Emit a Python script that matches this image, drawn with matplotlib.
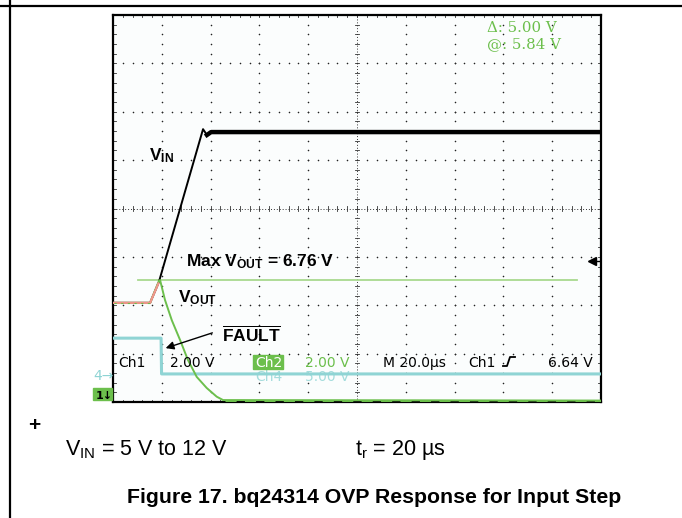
import matplotlib
matplotlib.use("Agg")
import matplotlib.pyplot as plt
import numpy as np
from matplotlib.patches import Rectangle

plt.rcParams['font.family'] = ['Liberation Sans', 'DejaVu Sans']
plt.rcParams['mathtext.fontset'] = 'custom'
plt.rcParams['mathtext.rm'] = 'Liberation Sans'
plt.rcParams['mathtext.it'] = 'Liberation Sans:italic'
plt.rcParams['mathtext.bf'] = 'Liberation Sans:bold'

# scope traces: time in us (20 us/div), level in screen divisions (8 div tall)
vin_t = [0, 15.2, 18.8, 36.9, 38.5, 40.2, 200]
vin_v = [2.05, 2.05, 2.48, 5.64, 5.52, 5.58, 5.58]

pre_t = [0.4, 15.2, 18.6]
pre_v = [2.05, 2.05, 2.45]

vout_t = [0, 15.2, 18.8, 19.3, 21.3, 24.1, 27.5, 30.7, 34.3, 38.4, 42.5, 45.1, 200]
vout_v = [2.05, 2.05, 2.50, 2.52, 2.11, 1.69, 1.28, 0.87, 0.52, 0.29, 0.11, 0.04, 0.03]

fault_t = [0.4, 19.7, 19.9, 200]
fault_v = [1.32, 1.32, 0.58, 0.58]

cursor_t = [10.2, 190.2]
cursor_level = 2.52
trigger_level = 2.91

W, H = 682, 518
GREEN = '#6cbf4c'
CYAN = '#8fd4d4'

fig = plt.figure(figsize=(W / 100, H / 100), dpi=100)
ax = fig.add_axes([113 / W, (H - 402) / H, 488 / W, 387 / H])
ax.set_xlim(0, 200)
ax.set_ylim(0, 8)
ax.set_xticks([])
ax.set_yticks([])
ax.set_facecolor('#fbfdfd')
for s in ax.spines.values():
    s.set_linewidth(1.6)
    s.set_color('black')

# graticule dots
minor_x = np.arange(0, 200.01, 4)
minor_y = np.arange(0, 8.01, 0.2)
for gx in range(20, 200, 20):
    if gx != 100:
        ax.scatter(np.full(len(minor_y), gx), minor_y, s=1.3, color='#222222', lw=0, zorder=1)
for gy in range(1, 8):
    if gy != 4:
        ax.scatter(minor_x, np.full(len(minor_x), gy), s=1.3, color='#222222', lw=0, zorder=1)
# center crosshair with ticks
ax.plot([0, 200], [4, 4], ls=(0, (1, 2)), color='#333333', lw=0.7, zorder=1)
ax.plot([100, 100], [0, 8], ls=(0, (1, 2)), color='#333333', lw=0.7, zorder=1)
for x in minor_x:
    ax.plot([x, x], [3.95, 4.05], color='#333333', lw=0.6, zorder=1)
for y in minor_y:
    ax.plot([99, 101], [y, y], color='#333333', lw=0.6, zorder=1)
# border ticks
for x in minor_x:
    ax.plot([x, x], [7.95, 8], color='#333333', lw=0.6, zorder=1)
    ax.plot([x, x], [0, 0.05], color='#333333', lw=0.6, zorder=1)
for y in minor_y:
    ax.plot([0, 1.2], [y, y], color='#333333', lw=0.6, zorder=1)
    ax.plot([198.8, 200], [y, y], color='#333333', lw=0.6, zorder=1)

# traces
ax.plot(cursor_t, [cursor_level] * 2, color='#a9d98f', lw=1.3, zorder=2)
ax.plot(fault_t, fault_v, color=CYAN, lw=2.2, zorder=3)
ax.plot(vin_t, vin_v, color='black', lw=1.4, zorder=4)
ax.plot(vin_t[4:], vin_v[4:], color='black', lw=3.2, zorder=4)
ax.plot(vout_t, vout_v, color=GREEN, lw=1.4, zorder=5)
ax.plot(pre_t, pre_v, color='#f0958a', lw=1.6, zorder=5)
ax.plot(pre_t[:2], pre_v[:2], color=GREEN, lw=0.8, ls=(0, (2, 4)), zorder=6)
ax.plot([46, 200], [0.03, 0.03], color=GREEN, lw=2, ls=(0, (4, 3)), zorder=6)
ax.plot([196.5], [trigger_level], marker='<', color='black', ms=6, zorder=6)
ax.plot([196.5, 199.5], [trigger_level, trigger_level], color='black', lw=1, zorder=6)

# overlay in pixel coordinates
ov = fig.add_axes([0, 0, 1, 1], zorder=5)
ov.set_xlim(0, W)
ov.set_ylim(H, 0)
ov.axis('off')
ov.patch.set_alpha(0)

ov.plot([0, W], [6, 6], color='black', lw=1.6)
ov.plot([10, 10], [0, H], color='black', lw=1.6)

serif = dict(family='DejaVu Serif', fontsize=10.8, color=GREEN, va='baseline')
ov.text(487, 32, 'Δ: 5.00 V', **serif)
ov.text(487, 48, '@: 5.84 V', **serif)

lab = dict(fontsize=12.5, color='black', va='baseline', fontweight='bold')
ov.text(149, 160, r'V$_\mathbf{IN}$', **lab)
ov.text(186, 266, r'Max V$_\mathbf{OUT}$ = 6.76 V', **lab)
ov.text(178, 302, r'V$_\mathbf{OUT}$', **lab)
ov.text(222, 341, r'$\overline{\mathbf{FAULT}}$', **lab)
ov.annotate('', xy=(163, 349), xytext=(215, 332),
            arrowprops=dict(arrowstyle='-|>', color='black', lw=1, mutation_scale=12))

ro = dict(family='DejaVu Sans', fontsize=10, va='baseline')
ov.text(118, 367, 'Ch1', color='black', **ro)
ov.text(170, 367, '2.00 V', color='black', **ro)
ov.add_patch(Rectangle((253, 355), 30, 14, color=GREEN, zorder=1))
ov.text(255, 367, 'Ch2', color='white', zorder=2, **ro)
ov.text(305, 367, '2.00 V', color=GREEN, **ro)
ov.text(383, 367, 'M 20.0µs', color='black', **ro)
ov.text(468, 367, 'Ch1', color='black', **ro)
ov.plot([503, 507, 510, 515], [366, 366, 357, 357], color='black', lw=1.3)
ov.text(548, 367, '6.64 V', color='black', **ro)
ov.text(255, 381, 'Ch4', color=CYAN, alpha=0.8, zorder=0, **ro)
ov.text(305, 381, '5.00 V', color=CYAN, alpha=0.8, zorder=0, **ro)
ov.text(93, 380, '4→', color=CYAN, **ro)
ov.add_patch(Rectangle((93, 388), 19, 12, color=GREEN))
ov.text(96, 399, '1↓', color='black', family='DejaVu Sans', fontsize=8,
        fontweight='bold', va='baseline')

ov.text(28, 431, '+', fontsize=15, fontweight='bold', color='black', va='baseline')
ov.text(65, 455, r'V$_\mathrm{IN}$ = 5 V to 12 V', fontsize=15.5, color='black', va='baseline')
ov.text(355, 455, r't$_\mathrm{r}$ = 20 µs', fontsize=15.5, color='black', va='baseline')
ov.text(374.5, 503, 'Figure 17. bq24314 OVP Response for Input Step', fontsize=15.3,
        fontweight='bold', ha='center', va='baseline', color='black')

fig.savefig('out.png', dpi=100)
